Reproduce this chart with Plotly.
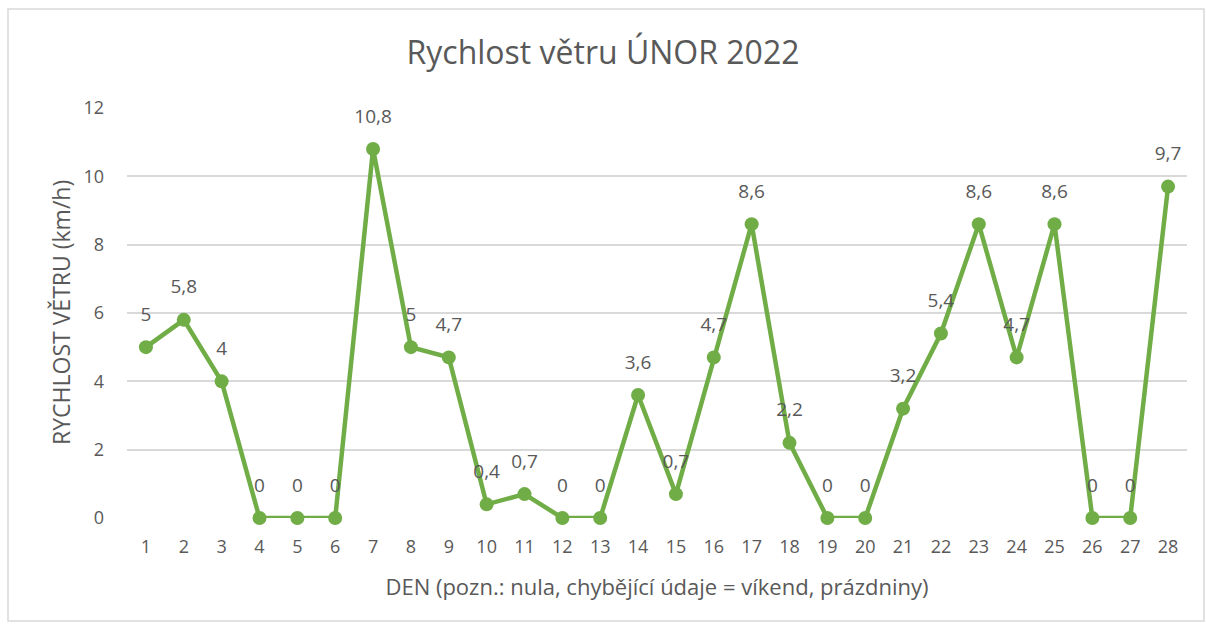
import plotly.graph_objects as go

days = list(range(1, 29))
speeds = [5, 5.8, 4, 0, 0, 0, 10.8, 5, 4.7, 0.4, 0.7, 0, 0, 3.6, 0.7, 4.7, 8.6, 2.2,
          0, 0, 3.2, 5.4, 8.6, 4.7, 8.6, 0, 0, 9.7]
labels = [str(v).replace(".", ",") for v in speeds]

GREEN = "#70AD47"
TXT = "#595959"
FONT = "Open Sans"

fig = go.Figure()
fig.add_trace(go.Scatter(
    x=days, y=speeds, mode="lines+markers",
    line=dict(color=GREEN, width=4.5),
    marker=dict(color=GREEN, size=14),
    cliponaxis=False, hoverinfo="x+y",
))
# data labels (placed above an invisible, larger marker for spacing)
fig.add_trace(go.Scatter(
    x=days, y=speeds, mode="markers+text",
    marker=dict(color="rgba(0,0,0,0)", size=33),
    text=labels, textposition="top center",
    textfont=dict(family=FONT, size=19, color=TXT),
    cliponaxis=False, hoverinfo="skip",
))

L, R, T, B = 127, 19, 108, 110
W, H = 1206, 628
pw = W - L - R
ph = H - T - B
fig.update_layout(
    width=W, height=H,
    margin=dict(l=L, r=R, t=T, b=B, autoexpand=False),
    paper_bgcolor="white", plot_bgcolor="white",
    showlegend=False,
    title=dict(text="Rychlost větru ÚNOR 2022", x=0.5, xanchor="center",
               y=1 - 53 / H, yanchor="middle",
               font=dict(family=FONT, size=32, color=TXT)),
    xaxis=dict(range=[0.5, 28.5], tickmode="array", tickvals=days,
               ticktext=[str(d) for d in days], showgrid=False, zeroline=False,
               showline=False, ticks="", automargin=False, ticklabelstandoff=16,
               tickfont=dict(family=FONT, size=18, color=TXT),
               title=dict(text="DEN (pozn.: nula, chybějící údaje = víkend, prázdniny)",
                          font=dict(family=FONT, size=22, color=TXT), standoff=22)),
    yaxis=dict(range=[0, 12], tickvals=[0, 2, 4, 6, 8, 10, 12],
               showgrid=True, gridcolor="#D9D9D9", gridwidth=1.5,
               zeroline=False, showline=False, ticks="", automargin=False,
               ticklabelstandoff=22,
               tickfont=dict(family=FONT, size=18, color=TXT)),
    annotations=[dict(text="RYCHLOST VĚTRU (km/h)", textangle=-90,
                      xref="paper", yref="paper",
                      x=(61 - L) / pw, y=(H - B - 313) / ph,
                      xanchor="center", yanchor="middle", showarrow=False,
                      font=dict(family=FONT, size=23, color=TXT))],
)

# chart-area border
x0 = (8 - L) / pw
x1 = (1204 - L) / pw
y0 = (H - B - 621) / ph
y1 = (H - B - 9) / ph
fig.add_shape(type="rect", xref="paper", yref="paper", x0=x0, x1=x1, y0=y0, y1=y1,
              line=dict(color="#D9D9D9", width=1.5), layer="below")

fig.write_html("out.html", config={"displayModeBar": False},
               post_script="document.body.style.margin='0';document.body.style.overflow='hidden';")
